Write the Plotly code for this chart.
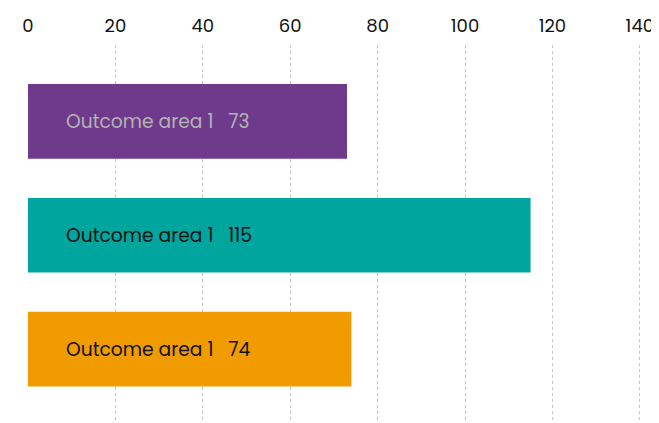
import plotly.graph_objects as go

categories = ["Outcome area 1", "Outcome area 1", "Outcome area 1"]
values = [73, 115, 74]
colors = ["#6f3a8b", "#00a59d", "#f09c00"]
label_colors = ["#b3b3b3", "#111111", "#111111"]
tick_vals = [0, 20, 40, 60, 80, 100, 120, 140]

positions = list(range(len(values)))

fig = go.Figure()
fig.add_trace(go.Bar(
    x=values, y=positions, orientation="h",
    marker=dict(color=colors, line=dict(width=0)),
    width=0.655, hoverinfo="skip",
))

for p, c, v, tc in zip(positions, categories, values, label_colors):
    fig.add_annotation(
        x=0, y=p, xref="x", yref="y", xanchor="left", yanchor="middle",
        xshift=36, showarrow=False,
        text=f"{c}&nbsp;&nbsp;&nbsp;{v}",
        font=dict(family="Poppins, Lato, sans-serif", size=18.7, color=tc),
    )

fig.update_layout(
    width=651, height=415,
    margin=dict(l=20, r=17, t=37, b=0, autoexpand=False),
    paper_bgcolor="white", plot_bgcolor="white",
    showlegend=False,
    font=dict(family="Poppins, Lato, sans-serif", size=18, color="#111111"),
)
fig.update_xaxes(
    side="top", range=[0, 140.5], tickvals=tick_vals,
    showgrid=True, gridcolor="#c4c4c4", gridwidth=1, griddash="3px,3px",
    zeroline=False, showline=False, ticks="outside", ticklen=5, tickcolor="rgba(0,0,0,0)",
    tickfont=dict(size=18, color="#111111"), automargin=False,
    ticklabeloverflow="allow",
)
fig.update_yaxes(
    range=[2.649, -0.671], showticklabels=False, showgrid=False,
    zeroline=False, showline=False,
)

fig.write_html("out.html")
